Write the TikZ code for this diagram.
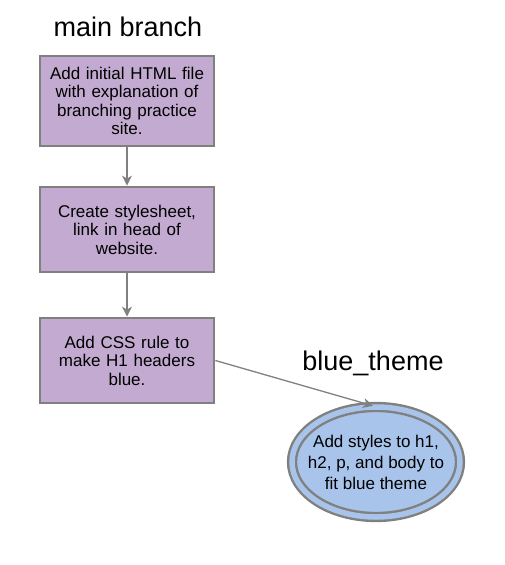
\documentclass[tikz,border=0pt]{standalone}
\usepackage{fontspec}
\setmainfont{Liberation Sans}
\usetikzlibrary{shapes.geometric,arrows.meta}
\definecolor{boxfill}{RGB}{195,170,208}
\definecolor{ellfill}{RGB}{168,196,234}
\definecolor{edge}{RGB}{128,128,128}
\tikzset{
  commit/.style={draw=edge, line width=2.8pt, fill=boxfill, minimum width=174pt, text width=172pt, align=center, inner sep=0pt, font=\fontsize{17pt}{18.5pt}\selectfont},
  branchnode/.style={ellipse, draw=edge, line width=2.4pt, double=ellfill, double distance=5.5pt, fill=ellfill, minimum width=168pt, minimum height=110pt, inner xsep=-12pt, inner ysep=-4pt, align=center, font=\fontsize{17pt}{21pt}\selectfont},
  conn/.style={draw=edge, line width=1.3pt, -{Stealth[length=10pt,width=10pt,inset=3pt]}},
  heading/.style={font=\fontsize{27pt}{30pt}\selectfont}
}
\begin{document}
\begin{tikzpicture}[x=1pt,y=-1pt]
\useasboundingbox (0,0) rectangle (504,565);
\node[heading] (t1) at (128,27) {main branch};
\node[heading] (t2) at (373,363) {blue\_theme};
\node[commit, minimum height=90pt] (b1) at (127,101) {Add initial HTML file\\with explanation of\\branching practice\\site.};
\node[commit, minimum height=85pt] (b2) at (127,229.5) {Create stylesheet,\\link in head of\\website.};
\node[commit, minimum height=85pt] (b3) at (127,360.5) {Add CSS rule to\\make H1 headers\\blue.};
\node[branchnode] (e) at (376,462) {Add styles to h1,\\h2, p, and body to\\fit blue theme};
\draw[conn] (b1) -- (b2);
\draw[conn] (b2) -- (b3);
\draw[conn] (b3.east) -- ([xshift=-3pt]e.north);
\end{tikzpicture}
\end{document}
